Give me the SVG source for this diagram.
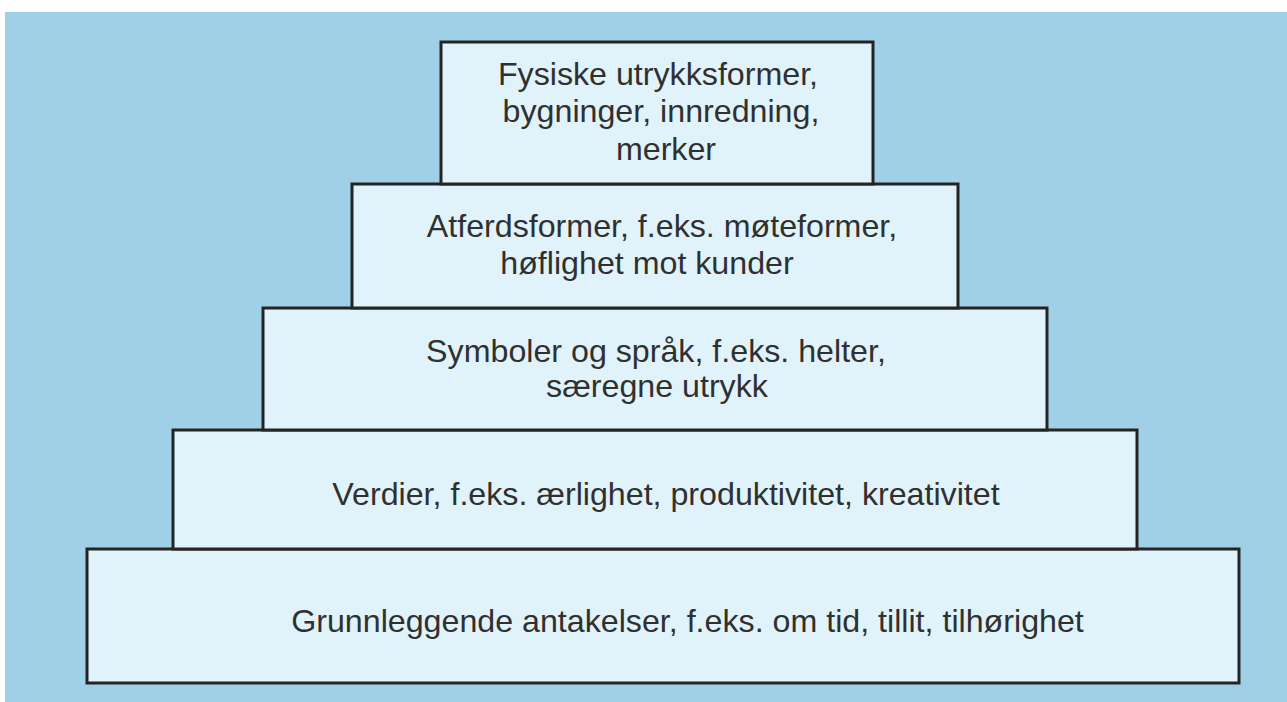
<svg xmlns="http://www.w3.org/2000/svg" width="1287" height="702" viewBox="0 0 1287 702">
<style>
.bg{fill:#a0d0e7}
.box{fill:#e0f3fa;stroke:#242424;stroke-width:3}
.t{font-family:"Liberation Sans",Arial,sans-serif;font-size:32.2px;fill:#303030;text-anchor:middle}
</style>
<rect x="0" y="0" width="1287" height="702" fill="#ffffff"/>
<rect class="bg" x="5" y="12" width="1282" height="690"/>
<g id="connectors"></g>
<g id="level5">
<rect class="box" x="87" y="549" width="1152" height="134"/>
<text class="t" x="687.5" y="632">Grunnleggende antakelser, f.eks. om tid, tillit, tilhørighet</text>
</g>
<g id="level4">
<rect class="box" x="173" y="430" width="964" height="119"/>
<text class="t" x="666" y="505">Verdier, f.eks. ærlighet, produktivitet, kreativitet</text>
</g>
<g id="level3">
<rect class="box" x="263" y="308" width="784" height="122"/>
<text class="t" x="656" y="362">Symboler og språk, f.eks. helter,</text>
<text class="t" x="657" y="397">særegne utrykk</text>
</g>
<g id="level2">
<rect class="box" x="352" y="184" width="606" height="124"/>
<text class="t" x="662" y="237">Atferdsformer, f.eks. møteformer,</text>
<text class="t" x="647" y="274">høflighet mot kunder</text>
</g>
<g id="level1">
<rect class="box" x="441" y="42" width="432" height="142"/>
<text class="t" x="658" y="85">Fysiske utrykksformer,</text>
<text class="t" x="661" y="122">bygninger, innredning,</text>
<text class="t" x="666" y="160">merker</text>
</g>
</svg>
